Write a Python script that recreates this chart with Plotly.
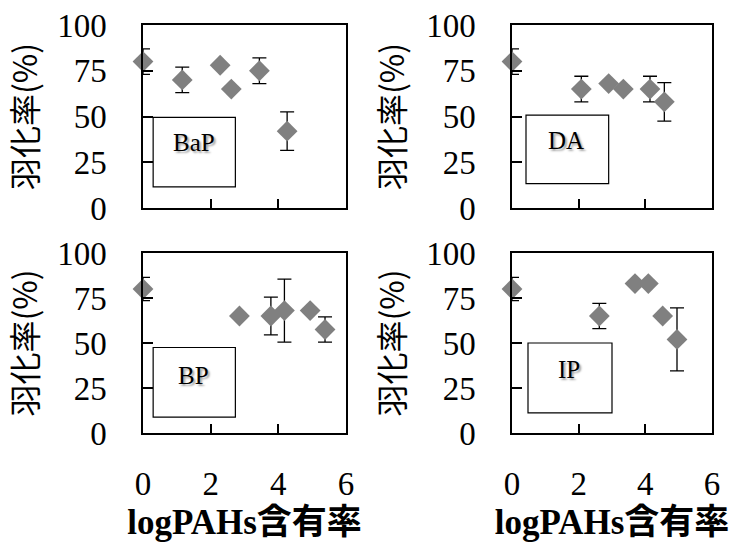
import plotly.graph_objects as go

# ---- data ----
bap_x = [0, 1.16, 2.28, 2.61, 3.44, 4.26]
bap_y = [80, 70, 78, 65, 75, 42]
bap_err = [7, 7, None, None, 7, 10.5]

da_x = [0, 2.08, 2.9, 3.34, 4.14, 4.57]
da_y = [80, 65, 68, 65, 65, 58]
da_err = [7, 7, None, None, 7, 10.5]

bp_x = [0, 2.85, 3.78, 4.18, 4.94, 5.38]
bp_y = [80, 65, 65, 68, 68, 57.5]
bp_err = [6.5, None, 10.5, 17.5, None, 7]

ip_x = [0, 2.62, 3.69, 4.09, 4.52, 4.95]
ip_y = [80, 65, 83, 83, 65, 52]
ip_err = [6.5, 7, None, None, None, 17.5]

labels = ["BaP", "DA", "BP", "IP"]
x_ticks = [0, 2, 4, 6]
y_ticks = [0, 25, 50, 75, 100]
y_title = "羽化率(%)"
x_title = "logPAHs含有率"

series = [(bap_x, bap_y, bap_err), (da_x, da_y, da_err),
          (bp_x, bp_y, bp_err), (ip_x, ip_y, ip_err)]

# label box geometry (data coords) per panel
boxes = [(0.3, 2.73, 11.5, 49.5), (0.42, 2.9, 13.3, 50.8),
         (0.3, 2.73, 8.8, 47.5), (0.48, 3.0, 11.2, 50)]
label_pos = [(1.5, 36), (1.63, 36.7), (1.48, 32.2), (1.71, 35.4)]

W, H = 731, 542
xdom = [(143 / W, 346 / W), (512 / W, 712 / W)]
ydom = [(1 - 208 / H, 1 - 25 / H), (1 - 433 / H, 1 - 253 / H)]

serif = "Liberation Serif, Times New Roman, serif"
cjk_sans = "Noto Sans CJK JP, Noto Sans, sans-serif"
mixed = "Liberation Serif, Noto Sans CJK JP, serif"

fig = go.Figure()
layout = dict(
    width=W, height=H,
    margin=dict(l=0, r=0, t=0, b=0, autoexpand=False),
    paper_bgcolor="white", plot_bgcolor="white",
    showlegend=False,
    shapes=[], annotations=[],
)

for i, (xs, ys, es) in enumerate(series):
    row, col = divmod(i, 2)
    n = i + 1
    xa = "xaxis" if n == 1 else f"xaxis{n}"
    ya = "yaxis" if n == 1 else f"yaxis{n}"
    xr = "x" if n == 1 else f"x{n}"
    yr = "y" if n == 1 else f"y{n}"
    fig.add_trace(go.Scatter(
        x=xs, y=ys, mode="markers", xaxis=xr, yaxis=yr,
        marker=dict(symbol="diamond", size=16, color="#808080"),
        error_y=dict(type="data", array=es, visible=True,
                     color="black", thickness=1.3, width=7),
        cliponaxis=False,
    ))
    bottom = row == 1
    layout[xa] = dict(
        domain=xdom[col], anchor=yr, range=[0, 6], automargin=False,
        tickvals=x_ticks, ticks="inside", ticklen=9, tickwidth=1.5,
        tickcolor="black", showline=True, linecolor="black", linewidth=1.5,
        mirror=True, showgrid=False, zeroline=False,
        showticklabels=bottom, ticklabelstandoff=21,
        tickfont=dict(family=serif, size=33, color="black"),
        title=dict(text=x_title if bottom else "", standoff=8,
                   font=dict(family=mixed, size=35, color="black", weight="bold")),
    )
    layout[ya] = dict(
        domain=ydom[row], anchor=xr, range=[0, 100], automargin=False,
        tickvals=y_ticks, ticks="inside", ticklen=10, tickwidth=1.5,
        tickcolor="black", showline=True, linecolor="black", linewidth=1.5,
        mirror=True, showgrid=False, zeroline=False,
        ticklabelstandoff=28,
        tickfont=dict(family=serif, size=33, color="black"),
        title=dict(text=y_title, standoff=12,
                   font=dict(family=cjk_sans, size=32, color="black")),
    )
    x0, x1, y0, y1 = boxes[i]
    layout["shapes"].append(dict(
        type="rect", xref=xr, yref=yr, x0=x0, x1=x1, y0=y0, y1=y1,
        line=dict(color="black", width=1.2), fillcolor="white", layer="below"))
    lx, ly = label_pos[i]
    layout["annotations"].append(dict(
        x=lx, y=ly, xref=xr, yref=yr, text=labels[i], showarrow=False,
        font=dict(family=serif, size=25, color="black",
                  shadow="2px 2px 2px rgba(0,0,0,0.35)")))

fig.update_layout(**layout)
fig.write_html("out.html",
               config={"displayModeBar": False},
               post_script="document.body.style.margin='0';document.body.style.overflow='hidden';")
